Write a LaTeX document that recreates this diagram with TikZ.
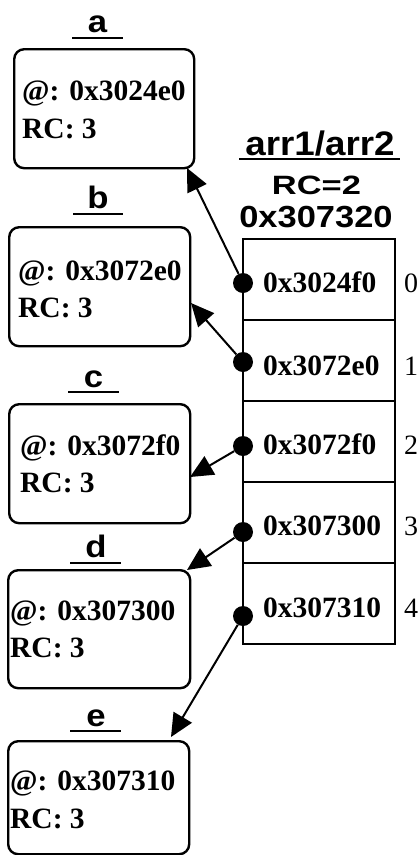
\documentclass[tikz,border=0pt]{standalone}
\usepackage{fontspec}
\usepackage{graphicx}
\usetikzlibrary{arrows.meta}
\newfontfamily\myserif{Liberation Serif}
\newfontfamily\mysans{Liberation Sans}
\newcommand\bxfont{\myserif\bfseries\fontsize{29.5}{29.5}\selectfont}
\newcommand\idxfont{\myserif\fontsize{28}{28}\selectfont}
\tikzset{
  box/.style={draw, line width=2.4pt, rounded corners=10pt, anchor=north west, inner sep=0pt},
  cell/.style={draw, line width=1.9pt, minimum width=152pt, minimum height=81pt, anchor=north west, inner sep=0pt},
  dot/.style={circle, fill=black, inner sep=0pt, minimum size=20pt},
  arr/.style={line width=2pt, -{Triangle[length=23pt,width=21pt]}},
  btxt/.style={font=\bxfont, anchor=base west, inner sep=0pt},
  idx/.style={font=\idxfont, anchor=base west, inner sep=0pt},
  lbl/.style={font=\mysans\bfseries\fontsize{31}{31}\selectfont, anchor=base, inner sep=0pt},
  uline/.style={line width=2.2pt},
}
\begin{document}
\begin{tikzpicture}[x=1pt,y=-1pt]
\useasboundingbox (0,0) rectangle (418,855);
% labels
\node[lbl] (la) at (97.5,32) {\scalebox{1.12}[1]{a}};
\draw[uline] (72,38) -- (123,38);
\node[lbl] (lb) at (98,208) {\scalebox{1.12}[1]{b}};
\draw[uline] (73,214) -- (123,214);
\node[lbl] (lc) at (93.5,387) {\scalebox{1.12}[1]{c}};
\draw[uline] (68,392) -- (119,392);
\node[lbl] (ld) at (96,557) {\scalebox{1.12}[1]{d}};
\draw[uline] (70,563) -- (121,563);
\node[lbl] (le) at (96,726) {\scalebox{1.12}[1]{e}};
\draw[uline] (70,731) -- (121,731);
% boxes
\node[box, minimum width=180pt, minimum height=119pt] (ba) at (13,48) {};
\node[btxt] (ba1) at (22,100) {@: 0x3024e0};
\node[btxt] (ba2) at (22,138) {RC: 3};
\node[box, minimum width=181pt, minimum height=119pt] (bb) at (8,226) {};
\node[btxt] (bb1) at (18,280) {@: 0x3072e0};
\node[btxt] (bb2) at (18,317) {RC: 3};
\node[box, minimum width=181pt, minimum height=119pt] (bc) at (8,403) {};
\node[btxt] (bc1) at (20,455) {@: 0x3072f0};
\node[btxt] (bc2) at (20,492) {RC: 3};
\node[box, minimum width=182pt, minimum height=118pt] (bd) at (7,569) {};
\node[btxt] (bd1) at (10,620) {@: 0x307300};
\node[btxt] (bd2) at (10,657) {RC: 3};
\node[box, minimum width=181pt, minimum height=113pt] (be) at (7,740) {};
\node[btxt] (be1) at (10,790) {@: 0x307310};
\node[btxt] (be2) at (10,828) {RC: 3};
% header
\node[font=\mysans\bfseries\fontsize{34}{34}\selectfont, anchor=base, inner sep=0pt] (hd) at (320,155) {\scalebox{1.08}[1]{arr1/arr2}};
\draw[uline] (239,159) -- (400,159);
\node[font=\mysans\bfseries\fontsize{26.5}{26.5}\selectfont, anchor=base, inner sep=0pt] (hrc) at (316.5,194) {\scalebox{1.3}[1]{RC=2}};
\node[font=\mysans\bfseries\fontsize{30.5}{30.5}\selectfont, anchor=base, inner sep=0pt] (had) at (316,227) {\scalebox{1.13}[1]{0x307320}};
% array cells
\node[cell] (c0) at (242,238) {};
\node[cell] (c1) at (242,319) {};
\node[cell] (c2) at (242,400) {};
\node[cell] (c3) at (242,481) {};
\node[cell] (c4) at (242,562) {};
\node[btxt] (v0) at (263,292) {0x3024f0};
\node[btxt] (v1) at (263,375) {0x3072e0};
\node[btxt] (v2) at (263,454) {0x3072f0};
\node[btxt] (v3) at (263,535) {0x307300};
\node[btxt] (v4) at (263,617) {0x307310};
\node[idx] (i0) at (404,292) {0};
\node[idx] (i1) at (404,375) {1};
\node[idx] (i2) at (404,454) {2};
\node[idx] (i3) at (404,535) {3};
\node[idx] (i4) at (404,617) {4};
% dots
\node[dot] (d0) at (243,283) {};
\node[dot] (d1) at (243,362) {};
\node[dot] (d2) at (243,446) {};
\node[dot] (d3) at (243,532) {};
\node[dot] (d4) at (243,616) {};
% arrow tips
\coordinate (ta) at (187,168);
\coordinate (tb) at (191,303);
\coordinate (tc) at (190,477);
\coordinate (td) at (187,570);
\coordinate (te) at (171,737);
\draw[arr] (d0) -- (ta);
\draw[arr] (d1) -- (tb);
\draw[arr] (d2) -- (tc);
\draw[arr] (d3) -- (td);
\draw[arr] (d4) -- (te);
\end{tikzpicture}
\end{document}
